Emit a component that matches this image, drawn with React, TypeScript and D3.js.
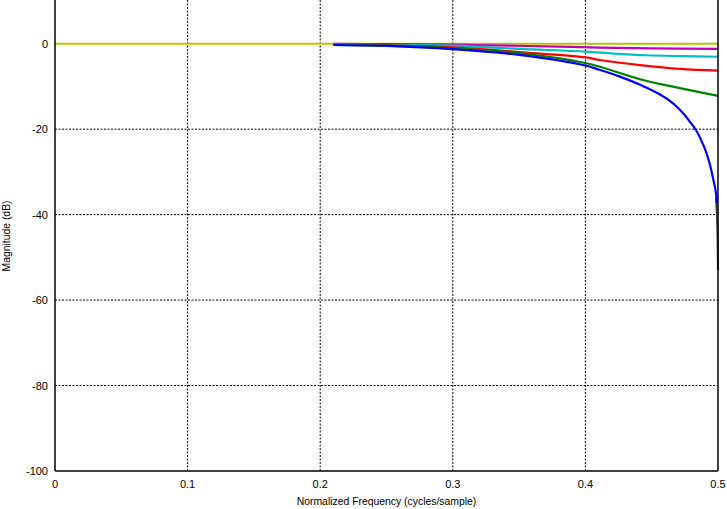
import React from "react";
import * as d3 from "d3";

const W = 727;
const H = 509;
const margin = { left: 55, right: 9, top: 1, bottom: 38 };

const xTicks = [0, 0.1, 0.2, 0.3, 0.4, 0.5];
const yTicks = [0, -20, -40, -60, -80, -100];

const yellowF = [0, 0.1, 0.2, 0.3, 0.4, 0.5];
const yellowDb = [0, 0, 0, 0, 0, 0];

const magentaF = [0.21, 0.25, 0.3, 0.33, 0.37, 0.41, 0.45, 0.5];
const magentaDb = [-0.05, -0.1, -0.2, -0.4, -0.6, -0.9, -1.1, -1.2];

const cyanF = [0.21, 0.25, 0.3, 0.35, 0.4, 0.421, 0.446, 0.471, 0.5];
const cyanDb = [-0.15, -0.3, -0.45, -1.2, -1.85, -2.3, -2.7, -2.9, -3.05];

const redF = [0.21, 0.25, 0.3, 0.35, 0.4, 0.411, 0.4412, 0.4713, 0.5];
const redDb = [-0.2, -0.4, -0.85, -1.95, -3.2, -3.8, -5.0, -5.9, -6.3];

const greenF = [0.21, 0.25, 0.3, 0.35, 0.4, 0.411, 0.4412, 0.4713, 0.5];
const greenDb = [-0.25, -0.45, -1.05, -2.2, -4.5, -5.4, -8.3, -10.4, -12.2];

const blueF = [0.21, 0.25, 0.3, 0.35, 0.4, 0.411, 0.426, 0.4412, 0.4563, 0.4663, 0.4744, 0.4789, 0.4834, 0.4872, 0.491, 0.494, 0.4962, 0.4981, 0.4992];
const blueDb = [-0.3, -0.5, -1.25, -2.6, -5.1, -6.15, -7.7, -9.6, -11.9, -14.0, -16.5, -18.3, -20.2, -22.5, -25.3, -28.4, -31.4, -34.2, -37.3];

const blackF = [0.4985, 0.4995, 0.5];
const blackDb = [-36, -42, -53];

const series = [
  { f: blackF, db: blackDb, color: "#404040" },
  { f: yellowF, db: yellowDb, color: "#bfbf00" },
  { f: magentaF, db: magentaDb, color: "#bf00bf" },
  { f: cyanF, db: cyanDb, color: "#00bfbf" },
  { f: redF, db: redDb, color: "#ff0000" },
  { f: greenF, db: greenDb, color: "#008000" },
  { f: blueF, db: blueDb, color: "#0000ff" },
];

export default function App() {
  const x = d3.scaleLinear().domain([0, 0.5]).range([margin.left, W - margin.right]);
  const y = d3.scaleLinear().domain([-100, 10]).range([H - margin.bottom, margin.top]);
  const line = d3
    .line<[number, number]>()
    .x((d) => x(d[0]))
    .y((d) => y(d[1]))
    .curve(d3.curveCatmullRom.alpha(0.5));

  const x0 = x(0), x1 = x(0.5), yb = y(-100), yt = margin.top - 1;
  const font = "'Liberation Sans', Arial, Helvetica, sans-serif";

  return (
    <svg width={W} height={H} style={{ position: "absolute", left: 0, top: 0, background: "#fff" }}>
      {xTicks.slice(1, -1).map((t) => (
        <line key={"gx" + t} x1={x(t)} x2={x(t)} y1={yt} y2={yb} stroke="#000" strokeWidth={1} strokeDasharray="2,1.5" />
      ))}
      {yTicks.slice(1, -1).map((t) => (
        <line key={"gy" + t} x1={x0} x2={x1} y1={y(t)} y2={y(t)} stroke="#000" strokeWidth={1} strokeDasharray="2,1.5" />
      ))}
      {series.map((s, i) => (
        <path
          key={i}
          d={line(s.f.map((f, j) => [f, s.db[j]] as [number, number])) || ""}
          fill="none"
          stroke={s.color}
          strokeWidth={2.2}
        />
      ))}
      <line x1={x0} x2={x0} y1={yt} y2={yb} stroke="#000" strokeWidth={1.5} />
      <line x1={x1} x2={x1} y1={yt} y2={yb} stroke="#000" strokeWidth={1.5} />
      <line x1={x0} x2={x1} y1={yb} y2={yb} stroke="#000" strokeWidth={1.5} />
      {xTicks.map((t) => (
        <text key={"tx" + t} x={x(t)} y={yb + 17} fontFamily={font} fontSize={11} textAnchor="middle" fill="#000">
          {String(t)}
        </text>
      ))}
      {yTicks.map((t) => (
        <text key={"ty" + t} x={x0 - 7} y={y(t) + 4} fontFamily={font} fontSize={11} textAnchor="end" fill="#000">
          {String(t)}
        </text>
      ))}
      <text x={(x0 + x1) / 2} y={H - 4} fontFamily={font} fontSize={10.4} textAnchor="middle" fill="#000">
        Normalized Frequency (cycles/sample)
      </text>
      <text
        transform={`translate(${10},${(margin.top + yb) / 2}) rotate(-90)`}
        fontFamily={font}
        fontSize={10.4}
        textAnchor="middle"
        fill="#000"
      >
        Magnitude (dB)
      </text>
    </svg>
  );
}
